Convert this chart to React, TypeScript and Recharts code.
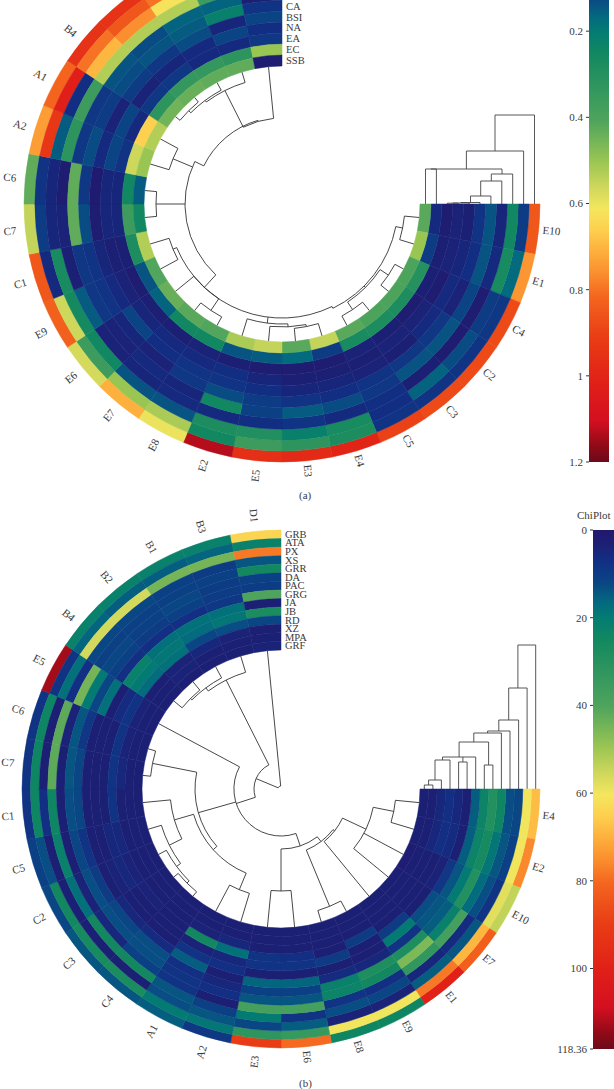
import React from "react";
import { PieChart, Pie, Cell, Customized, ComposedChart, Bar, XAxis, YAxis } from "recharts";

const FONT = "'Liberation Serif', serif";
const INK = "#3a3a3a";

// colour ramp of the scale bars, position 0..1 -> colour
const rampAt = [0, 0.03, 0.06, 0.1, 0.14, 0.17, 0.21, 0.34, 0.42, 0.47, 0.51, 0.55, 0.6, 0.64, 0.68, 0.76, 0.85, 0.92, 0.97, 1];
const rampColor = ["#21186e", "#1b2176", "#122f84", "#0a4484", "#036a7e", "#047c72", "#128860", "#4fa45c", "#9cc653", "#d0d85c", "#f4e65e", "#fdd04f", "#fdaa3a", "#fa8a2d", "#f4661f", "#e93c15", "#e01f18", "#d40f20", "#8f0a18", "#6d0a1a"];

// panel (a): 24 samples, 11 measures, outermost ring first. the top labels lie outside the figure
const catsA = ["E10", "E1", "C4", "C2", "C3", "C5", "E4", "E3", "E5", "E2", "E8", "E7", "E6", "E9", "C1", "C7", "C6", "A2", "A1", "B4", "", "", "", ""];
const ringsA = ["", "", "", "", "", "CA", "BSI", "NA", "EA", "EC", "SSB"];
const aE10 = [0.85, 0.1, 0.25, 0.05, 0.14, 0.08, 0.03, 0.04, 0.02, 0.06, 0.42];
const aE1 = [0.75, 0.17, 0.27, 0.06, 0.14, 0.07, 0.05, 0.04, 0.03, 0.1, 0.5];
const aC4 = [0.88, 0.09, 0.1, 0.02, 0.12, 0.04, 0.06, 0.02, 0.03, 0.3, 0.4];
const aC2 = [0.88, 0.08, 0.13, 0.02, 0.14, 0.09, 0.06, 0.04, 0.02, 0.28, 0.4];
const aC3 = [0.88, 0.08, 0.16, 0.03, 0.14, 0.09, 0.03, 0.04, 0.03, 0.28, 0.4];
const aC5 = [0.9, 0.08, 0.07, 0.07, 0.09, 0.08, 0.04, 0.03, 0.04, 0.27, 0.42];
const aE4 = [1.0, 0.28, 0.27, 0.06, 0.13, 0.07, 0.05, 0.03, 0.02, 0.1, 0.55];
const aE3 = [0.98, 0.32, 0.22, 0.08, 0.15, 0.08, 0.05, 0.03, 0.02, 0.17, 0.42];
const aE5 = [0.96, 0.36, 0.29, 0.07, 0.11, 0.1, 0.07, 0.05, 0.02, 0.15, 0.55];
const aE2 = [1.13, 0.25, 0.28, 0.06, 0.25, 0.13, 0.08, 0.07, 0.03, 0.14, 0.52];
const aE8 = [0.6, 0.52, 0.14, 0.06, 0.05, 0.09, 0.08, 0.06, 0.04, 0.25, 0.41];
const aE7 = [0.71, 0.5, 0.14, 0.05, 0.06, 0.04, 0.07, 0.06, 0.03, 0.25, 0.42];
const aE6 = [0.57, 0.36, 0.25, 0.04, 0.04, 0.05, 0.12, 0.05, 0.03, 0.16, 0.44];
const aE9 = [0.83, 0.56, 0.26, 0.15, 0.09, 0.08, 0.06, 0.04, 0.02, 0.14, 0.41];
const aC1 = [0.85, 0.06, 0.27, 0.03, 0.09, 0.08, 0.05, 0.03, 0.03, 0.28, 0.53];
const aC7 = [0.55, 0.1, 0.05, 0.04, 0.43, 0.13, 0.02, 0.05, 0.05, 0.36, 0.25];
const aC6 = [0.43, 0.08, 0.05, 0.02, 0.43, 0.09, 0.01, 0.05, 0.05, 0.25, 0.15];
const aA2 = [0.74, 0.93, 0.15, 0.32, 0.09, 0.13, 0.06, 0.12, 0.08, 0.56, 0.5];
const aA1 = [0.82, 1.02, 0.07, 0.36, 0.09, 0.1, 0.04, 0.12, 0.06, 0.66, 0.53];
const aB4 = [0.95, 0.8, 0.7, 0.53, 0.14, 0.13, 0.1, 0.04, 0.09, 0.32, 0.45];
const aB2 = [0.95, 0.85, 0.76, 0.53, 0.13, 0.14, 0.09, 0.05, 0.09, 0.34, 0.44];
const aB1 = [0.95, 0.8, 0.62, 0.53, 0.16, 0.15, 0.13, 0.06, 0.06, 0.34, 0.43];
const aB3 = [0.92, 0.9, 0.56, 0.36, 0.16, 0.22, 0.05, 0.12, 0.06, 0.32, 0.43];
const aD1 = [0.9, 0.85, 0.56, 0.28, 0.03, 0.08, 0.12, 0.07, 0.09, 0.5, 0.02];
const valuesA = [aE10, aE1, aC4, aC2, aC3, aC5, aE4, aE3, aE5, aE2, aE8, aE7, aE6, aE9, aC1, aC7, aC6, aA2, aA1, aB4, aB2, aB1, aB3, aD1];

// panel (b): 24 samples, 14 measures, outermost ring first
const catsB = ["E4", "E2", "E10", "E7", "E1", "E9", "E8", "E6", "E3", "A2", "A1", "C4", "C3", "C2", "C5", "C1", "C7", "C6", "E5", "B4", "B2", "B1", "B3", "D1"];
const ringsB = ["GRB", "ATA", "PX", "XS", "GRR", "DA", "PAC", "GRG", "JA", "JB", "RD", "XZ", "MPA", "GRF"];
const bE4 = [68, 60, 12, 13, 24, 29, 23, 15, 3, 5, 7, 5, 3, 3];
const bE2 = [76, 60, 11, 14, 19, 26, 23, 15, 3, 6, 7, 5, 3, 3];
const bE10 = [54, 58, 8, 13, 17, 29, 20, 14, 9, 4, 3, 3, 3, 2];
const bE7 = [82, 69, 14, 6, 38, 22, 15, 14, 13, 3, 3, 3, 3, 3];
const bE1 = [100, 78, 15, 5, 33, 46, 28, 8, 20, 10, 3, 3, 3, 3];
const bE9 = [24, 60, 4, 12, 7, 25, 28, 5, 3, 3, 10, 3, 3, 3];
const bE8 = [24, 60, 4, 13, 8, 23, 22, 6, 3, 10, 3, 3, 3, 3];
const bE6 = [80, 34, 15, 8, 38, 14, 11, 16, 3, 8, 7, 3, 3, 3];
const bE3 = [90, 32, 12, 20, 38, 14, 11, 16, 3, 8, 8, 3, 3, 3];
const bA2 = [9, 19, 14, 11, 3, 7, 5, 3, 7, 5, 18, 5, 3, 3];
const bA1 = [15, 20, 13, 14, 8, 8, 7, 15, 8, 4, 25, 4, 3, 3];
const bC4 = [14, 27, 3, 25, 11, 13, 13, 6, 3, 3, 3, 3, 3, 3];
const bC3 = [14, 26, 3, 25, 5, 13, 12, 5, 3, 3, 4, 3, 3, 3];
const bC2 = [12, 25, 3, 18, 4, 13, 10, 3, 4, 5, 4, 3, 3, 3];
const bC5 = [11, 13, 3, 22, 3, 12, 8, 3, 3, 5, 5, 3, 3, 3];
const bC1 = [8, 24, 7, 24, 3, 13, 12, 3, 3, 3, 8, 3, 3, 3];
const bC7 = [8, 24, 3, 42, 3, 14, 12, 3, 3, 3, 8, 5, 3, 3];
const bC6 = [8, 24, 3, 42, 4, 14, 9, 3, 3, 3, 8, 4, 3, 3];
const bE5 = [113, 8, 18, 7, 45, 20, 12, 18, 3, 6, 8, 4, 3, 3];
const bB4 = [22, 16, 56, 12, 11, 12, 11, 7, 22, 20, 17, 3, 3, 3];
const bB2 = [22, 15, 56, 12, 11, 11, 10, 7, 18, 19, 18, 4, 4, 3];
const bB1 = [22, 15, 45, 11, 11, 12, 11, 7, 18, 17, 12, 5, 3, 3];
const bB3 = [22, 16, 45, 10, 11, 10, 10, 9, 18, 19, 13, 4, 3, 3];
const bD1 = [64, 22, 78, 14, 25, 11, 10, 40, 3, 27, 12, 3, 3, 4];
const valuesB = [bE4, bE2, bE10, bE7, bE1, bE9, bE8, bE6, bE3, bA2, bA1, bC4, bC3, bC2, bC5, bC1, bC7, bC6, bE5, bB4, bB2, bB1, bB3, bD1];

// clustering trees. a leaf is a sample or ring number, a node is [level, kids, optional centre]
type Tree = number | [number, Tree[], number?];

const sampleTreeA: Tree = [87, [
  [86, [[127, [[129, [[132, [19, 20]], 21]], 22]], 23]],
  [97, [
    [118, [17, 18]],
    [126, [15, 16]],
    [114, [
      [118, [13, 14]],
      [114, [12, [128, [10, 11]]]],
      [120, [[123, [[125, [6, 7]], 8]], 9]],
      [116, [[123, [0, 1]], [118, [[127, [4, 5]], [128, [2, 3]]]]], 64],
    ], 133],
  ], 206],
], 232];

const ringTreeA: Tree = [89, [0, [53, [1, [35, [[35, [9, 10]], [30, [2, [23, [3, [8, [4, [1.5, [5, [1, [6, [0.8, [7, 8]]]]]]]]]]]]]]]]]];

const sampleTreeB: Tree = [3, [
  [27, [
    [47, [
      [60, [
        [66, [
          [68, [[94, [[115, [0, 1]], 2, 3]], 4]],
          [127, [5, 6]],
        ]],
        [102, [7, 8]],
      ]],
      [86, [
        [91, [
          [109, [9, 10]],
          [111, [[125, [[130, [[133, [11, 12]], 13]], 14]], 15]],
        ]],
        [131, [16, 17]],
      ], 164],
      18,
    ], 162],
    [122, [[126, [[128, [19, 20]], 21]], 22]],
  ]],
  23,
]];

const ringTreeB: Tree = [144, [0, [101, [1, [69, [2, [58, [3, [56, [4, [47, [[24, [5, 6]], [32, [7, [27, [8, 9]], [29, [10, [9, [11, [4, [12, 13]]]]]]]]]]]]]]]]]]]];

const hex = (c: string) => [1, 3, 5].map((i) => parseInt(c.slice(i, i + 2), 16));

function heatColor(share: number) {
  const t = Math.min(1, Math.max(0, share));
  let k = 0;
  while (k < rampAt.length - 2 && t > rampAt[k + 1]) k++;
  const u = (t - rampAt[k]) / (rampAt[k + 1] - rampAt[k]);
  const a = hex(rampColor[k]);
  const b = hex(rampColor[k + 1]);
  return `rgb(${a.map((v, i) => Math.round(v + (b[i] - v) * u)).join(",")})`;
}

const SWEEP = 270;

function polarPaths(tree: Tree, cx: number, cy: number, leafR: number, step: number) {
  const d: string[] = [];
  const pt = (deg: number, r: number) => {
    const a = (deg * Math.PI) / 180;
    return `${(cx + r * Math.cos(a)).toFixed(1)} ${(cy + r * Math.sin(a)).toFixed(1)}`;
  };
  const walk = (n: Tree): { deg: number; r: number } => {
    if (typeof n === "number") return { deg: (n + 0.5) * step, r: leafR };
    const kids = n[1].map(walk);
    kids.forEach((k) => d.push(`M${pt(k.deg, k.r)}L${pt(k.deg, n[0])}`));
    const lo = Math.min(...kids.map((k) => k.deg));
    const hi = Math.max(...kids.map((k) => k.deg));
    const deg = n[2] ?? (lo + hi) / 2;
    const from = Math.min(lo, deg);
    const to = Math.max(hi, deg);
    d.push(`M${pt(from, n[0])}A${n[0]} ${n[0]} 0 ${to - from > 180 ? 1 : 0} 1 ${pt(to, n[0])}`);
    return { deg, r: n[0] };
  };
  walk(tree);
  return d.join("");
}

function ringPaths(tree: Tree, xOf: (ring: number) => number, base: number) {
  const d: string[] = [];
  const walk = (n: Tree): { x: number; h: number } => {
    if (typeof n === "number") return { x: xOf(n), h: 0 };
    const kids = n[1].map(walk);
    kids.forEach((k) => d.push(`M${k.x.toFixed(1)} ${base - k.h}V${base - n[0]}`));
    const xs = kids.map((k) => k.x);
    d.push(`M${Math.min(...xs).toFixed(1)} ${base - n[0]}H${Math.max(...xs).toFixed(1)}`);
    return { x: (Math.min(...xs) + Math.max(...xs)) / 2, h: n[0] };
  };
  walk(tree);
  return d.join("");
}

function panel(id: string, cats: string[], rings: string[], values: number[][], max: number, cx: number, cy: number, inner: number, outer: number) {
  const band = (outer - inner) / rings.length;
  return rings.map((ring, r) => {
    const rows = cats.map((name, i) => ({ name, size: 1, heat: values[i][r] }));
    return (
      <Pie
        key={id + r}
        data={rows}
        dataKey="size"
        cx={cx}
        cy={cy}
        startAngle={0}
        endAngle={-SWEEP}
        innerRadius={outer - band * (r + 1)}
        outerRadius={outer - band * r}
        paddingAngle={0}
        isAnimationActive={false}
        labelLine={false}
        label={
          r === 0
            ? (p: any) => {
                if (!cats[p.index]) return null;
                const deg = -p.midAngle;
                const right = deg <= 90;
                const a = (deg * Math.PI) / 180;
                const dist = outer + (right ? 4 : 9);
                const x = cx + dist * Math.cos(a);
                const y = cy + dist * Math.sin(a);
                return (
                  <text
                    key={p.index}
                    x={x}
                    y={y}
                    dy={4}
                    fontFamily={FONT}
                    fontSize={11}
                    fill={INK}
                    textAnchor={right ? "start" : "end"}
                    transform={`rotate(${right ? deg : deg - 180} ${x} ${y})`}
                  >
                    {cats[p.index]}
                  </text>
                );
              }
            : false
        }
      >
        {rows.map((row, i) => {
          const c = heatColor(row.heat / max);
          return <Cell key={i} fill={c} stroke={c} strokeWidth={0.5} />;
        })}
      </Pie>
    );
  });
}

function Overlay({ cx, cy, inner, outer, rings, sampleTree, ringTree }: any) {
  const band = (outer - inner) / rings.length;
  const xOf = (ring: number) => cx + outer - band * (ring + 0.5);
  return (
    <g>
      <path d={polarPaths(sampleTree, cx, cy, inner, SWEEP / 24)} fill="none" stroke="#333" strokeWidth={0.9} />
      <path d={ringPaths(ringTree, xOf, cy)} fill="none" stroke="#444" strokeWidth={0.9} />
      {rings.map((name: string, r: number) => (
        <text key={r} x={cx + 4} y={cy - (outer - band * (r + 0.5))} dy={3.6} fontFamily={FONT} fontSize={10.5} fill={INK}>
          {name}
        </text>
      ))}
    </g>
  );
}

function ScaleBar({ id, left, top, height, barWidth, max, ticks }: any) {
  const axisWidth = 50;
  return (
    <div style={{ position: "absolute", left: left - axisWidth, top: top - 10 }}>
      <ComposedChart
        width={axisWidth + barWidth}
        height={height + 20}
        data={[{ name: "scale", top: max }]}
        margin={{ top: 10, right: 0, bottom: 10, left: 0 }}
        barCategoryGap={0}
      >
        <defs>
          <linearGradient id={id} x1="0" y1="0" x2="0" y2="1">
            {rampAt.map((at, i) => (
              <stop key={i} offset={at} stopColor={rampColor[i]} />
            ))}
          </linearGradient>
        </defs>
        <XAxis dataKey="name" hide />
        <YAxis
          type="number"
          reversed
          domain={[0, max]}
          ticks={ticks}
          interval={0}
          width={axisWidth}
          axisLine={false}
          tickSize={3}
          tickMargin={3}
          tickLine={{ stroke: "#333" }}
          tick={{ fontFamily: FONT, fontSize: 11, fill: INK }}
        />
        <Bar dataKey="top" fill={`url(#${id})`} isAnimationActive={false} />
      </ComposedChart>
    </div>
  );
}

const captionStyle: React.CSSProperties = { position: "absolute", fontFamily: FONT, fontSize: 11, color: INK, whiteSpace: "nowrap" };

export default function App() {
  return (
    <div style={{ position: "absolute", left: 0, top: 0, width: 614, height: 1089, overflow: "hidden", background: "#fff" }}>
      <PieChart width={614} height={1089} margin={{ top: 0, right: 0, bottom: 0, left: 0 }}>
        {panel("a", catsA, ringsA, valuesA, 1.2, 282, 204, 138, 258)}
        {panel("b", catsB, ringsB, valuesB, 118.36, 281, 789, 139, 259)}
        <Customized component={<Overlay cx={282} cy={204} inner={138} outer={258} rings={ringsA} sampleTree={sampleTreeA} ringTree={ringTreeA} />} />
        <Customized component={<Overlay cx={281} cy={789} inner={139} outer={259} rings={ringsB} sampleTree={sampleTreeB} ringTree={ringTreeB} />} />
      </PieChart>
      <ScaleBar id="rampA" left={589} top={-55} height={517} barWidth={20} max={1.2} ticks={[0.2, 0.4, 0.6, 0.8, 1, 1.2]} />
      <ScaleBar id="rampB" left={593} top={530} height={519} barWidth={21} max={118.36} ticks={[0, 20, 40, 60, 80, 100, 118.36]} />
      <div style={{ ...captionStyle, left: 577, top: 509 }}>ChiPlot</div>
      <div style={{ ...captionStyle, left: 299, top: 489 }}>(a)</div>
      <div style={{ ...captionStyle, left: 299, top: 1077 }}>(b)</div>
    </div>
  );
}
